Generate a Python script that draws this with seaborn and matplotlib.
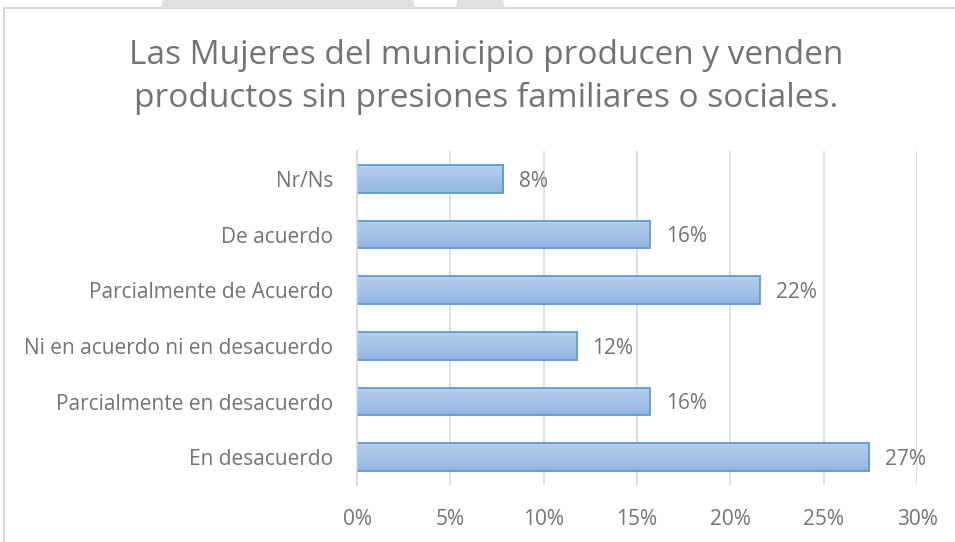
import numpy as np
import pandas as pd
import matplotlib
matplotlib.use("Agg")
import matplotlib.pyplot as plt
import seaborn as sns
from matplotlib.patches import Polygon, Rectangle
from matplotlib.colors import LinearSegmentedColormap

categories = [
    "Nr/Ns",
    "De acuerdo",
    "Parcialmente de Acuerdo",
    "Ni en acuerdo ni en desacuerdo",
    "Parcialmente en desacuerdo",
    "En desacuerdo",
]
shares = [7.84, 15.69, 21.57, 11.76, 15.69, 27.45]
x_ticks = [0, 5, 10, 15, 20, 25, 30]
title = "Las Mujeres del municipio producen y venden\nproductos sin presiones familiares o sociales."

df = pd.DataFrame({"categoria": categories, "porcentaje": shares})

sns.set_theme(style="white")
plt.rcParams["font.family"] = ["Open Sans", "DejaVu Sans"]
TEXT = "#737373"

W, H = 955, 542
fig = plt.figure(figsize=(W / 100, H / 100), dpi=100)
fig.patch.set_facecolor("white")

# chart frame and decorative bands along the top edge
fig.patches.append(Rectangle((4 / W, -0.1), 1.2, (H - 8) / H + 0.1, transform=fig.transFigure,
                             fill=False, edgecolor="#d9d9d9", linewidth=1.5))
for xs in [(161, 163, 413, 415), (456, 457, 503, 505)]:
    a, b, c, d = xs
    pts = [(b / W, 1), (c / W, 1), (d / W, (H - 8) / H), (a / W, (H - 8) / H)]
    fig.patches.append(Polygon(pts, closed=True, transform=fig.transFigure,
                               facecolor="#e0e0e0", edgecolor="none"))

ax = fig.add_axes([357 / W, 1 - 485 / H, (917 - 357) / W, (485 - 151) / H])
sns.barplot(data=df, y="categoria", x="porcentaje", orient="h", ax=ax,
            color="#a5c3e8", edgecolor="#5b9bd5", linewidth=1.3, width=0.5, zorder=2)

# vertical gradient inside each bar
grad = LinearSegmentedColormap.from_list("barfill", ["#b7cfeb", "#93b6e2"])
for p in ax.patches:
    x0, y0 = p.get_x(), p.get_y()
    w, h = p.get_width(), p.get_height()
    im = ax.imshow(np.linspace(0, 1, 64).reshape(-1, 1), cmap=grad, aspect="auto",
                   extent=(x0, x0 + w, y0 + h, y0), origin="upper", zorder=2.5)
    im.set_clip_path(p)
    p.set_facecolor("none")
    p.set_zorder(3)

for i, v in enumerate(shares):
    ax.text(v + 0.85, i + 0.04, f"{v:.0f}%", va="center", ha="left", fontsize=15, color=TEXT)

ax.set_xlim(0, 30)
ax.set_ylim(len(categories) - 0.5, -0.5)
ax.set_xticks(x_ticks)
ax.set_xticklabels([f"{t}%" for t in x_ticks])
ax.xaxis.grid(True, color="#d9d9d9", linewidth=1.2, zorder=0)
ax.set_axisbelow(True)
ax.tick_params(axis="both", length=0, labelsize=15, colors=TEXT)
ax.tick_params(axis="x", pad=17)
ax.tick_params(axis="y", pad=17)
ax.set_xlabel("")
ax.set_ylabel("")
for s in ["top", "right", "bottom"]:
    ax.spines[s].set_visible(False)
ax.spines["left"].set_color("#d9d9d9")
ax.spines["left"].set_linewidth(1.2)
ax.spines["left"].set_zorder(4)

fig.text(0.5 * (130 + 843) / W, 1 - 77 / H, title, ha="center", va="center",
         fontsize=24, color=TEXT, linespacing=1.4)

fig.savefig("out.png", dpi=100, facecolor="white")
